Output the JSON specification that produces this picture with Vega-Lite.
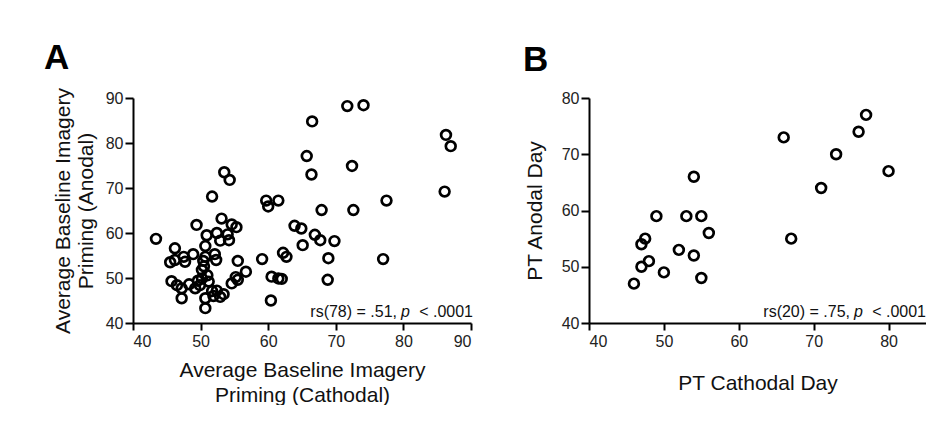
{
  "$schema": "https://vega.github.io/schema/vega-lite/v6.json",
  "background": "white",
  "padding": {"left": 44, "top": 40, "right": 0, "bottom": 0},
  "spacing": 50,
  "config": {
    "view": {"stroke": null},
    "font": "Liberation Sans",
    "axis": {
      "grid": false,
      "domainColor": "#000",
      "domainWidth": 2,
      "tickColor": "#000",
      "tickWidth": 2,
      "tickSize": 7,
      "labelFont": "Liberation Sans",
      "labelFontSize": 16,
      "labelColor": "#222",
      "titleFont": "Liberation Sans",
      "titleFontWeight": "normal",
      "titleFontSize": 21,
      "titleColor": "#111"
    },
    "title": {"font": "Liberation Sans", "fontSize": 35, "fontWeight": "bold", "anchor": "start", "frame": "group", "color": "#000"}
  },
  "datasets": {
    "a": [
      {"cathodal": 43.4, "anodal": 58.7}, {"cathodal": 49.4, "anodal": 61.8}, {"cathodal": 53.1, "anodal": 63.2},
      {"cathodal": 54.6, "anodal": 61.9}, {"cathodal": 55.3, "anodal": 61.3}, {"cathodal": 50.9, "anodal": 59.5},
      {"cathodal": 52.4, "anodal": 60.0}, {"cathodal": 54.0, "anodal": 59.7}, {"cathodal": 52.9, "anodal": 58.3},
      {"cathodal": 54.2, "anodal": 58.4}, {"cathodal": 50.7, "anodal": 57.1}, {"cathodal": 46.2, "anodal": 56.6},
      {"cathodal": 48.9, "anodal": 55.3}, {"cathodal": 52.1, "anodal": 55.3}, {"cathodal": 52.3, "anodal": 54.0},
      {"cathodal": 50.7, "anodal": 54.7}, {"cathodal": 50.4, "anodal": 53.8}, {"cathodal": 47.5, "anodal": 54.7},
      {"cathodal": 47.7, "anodal": 53.6}, {"cathodal": 45.5, "anodal": 53.5}, {"cathodal": 46.2, "anodal": 54.0},
      {"cathodal": 55.5, "anodal": 53.8}, {"cathodal": 59.1, "anodal": 54.2}, {"cathodal": 56.7, "anodal": 51.4},
      {"cathodal": 50.2, "anodal": 51.8}, {"cathodal": 50.2, "anodal": 49.9}, {"cathodal": 51.2, "anodal": 49.2},
      {"cathodal": 49.9, "anodal": 48.4}, {"cathodal": 45.7, "anodal": 49.3}, {"cathodal": 46.5, "anodal": 48.4},
      {"cathodal": 47.2, "anodal": 47.7}, {"cathodal": 48.3, "anodal": 48.6}, {"cathodal": 49.2, "anodal": 47.7},
      {"cathodal": 54.6, "anodal": 48.8}, {"cathodal": 55.5, "anodal": 49.6}, {"cathodal": 55.2, "anodal": 50.2},
      {"cathodal": 47.2, "anodal": 45.5}, {"cathodal": 50.7, "anodal": 45.5}, {"cathodal": 51.9, "anodal": 46.0},
      {"cathodal": 52.9, "anodal": 45.8}, {"cathodal": 51.7, "anodal": 47.1}, {"cathodal": 50.7, "anodal": 43.3},
      {"cathodal": 60.5, "anodal": 50.3}, {"cathodal": 61.5, "anodal": 49.9}, {"cathodal": 62.0, "anodal": 49.8},
      {"cathodal": 60.4, "anodal": 45.0}, {"cathodal": 68.8, "anodal": 49.6}, {"cathodal": 62.2, "anodal": 55.6},
      {"cathodal": 62.7, "anodal": 54.7}, {"cathodal": 68.9, "anodal": 54.4}, {"cathodal": 77.0, "anodal": 54.2},
      {"cathodal": 65.1, "anodal": 57.3}, {"cathodal": 66.9, "anodal": 59.6}, {"cathodal": 67.7, "anodal": 58.4},
      {"cathodal": 69.8, "anodal": 58.2}, {"cathodal": 63.9, "anodal": 61.6}, {"cathodal": 64.9, "anodal": 61.0},
      {"cathodal": 67.9, "anodal": 65.1}, {"cathodal": 72.6, "anodal": 65.1}, {"cathodal": 59.7, "anodal": 67.2},
      {"cathodal": 60.0, "anodal": 65.9}, {"cathodal": 61.5, "anodal": 67.2}, {"cathodal": 77.5, "anodal": 67.2},
      {"cathodal": 51.7, "anodal": 68.1}, {"cathodal": 53.5, "anodal": 73.5}, {"cathodal": 54.3, "anodal": 71.8},
      {"cathodal": 86.1, "anodal": 69.2}, {"cathodal": 66.4, "anodal": 73.0}, {"cathodal": 72.4, "anodal": 74.9},
      {"cathodal": 65.7, "anodal": 77.1}, {"cathodal": 87.0, "anodal": 79.3}, {"cathodal": 86.3, "anodal": 81.8},
      {"cathodal": 66.5, "anodal": 84.8}, {"cathodal": 71.7, "anodal": 88.2}, {"cathodal": 74.1, "anodal": 88.4},
      {"cathodal": 51.0, "anodal": 50.6}, {"cathodal": 49.6, "anodal": 49.4}, {"cathodal": 52.4, "anodal": 47.2},
      {"cathodal": 50.5, "anodal": 52.6}, {"cathodal": 53.4, "anodal": 46.4}
    ],
    "b": [
      {"cathodal": 46, "anodal": 47}, {"cathodal": 47, "anodal": 50}, {"cathodal": 48, "anodal": 51},
      {"cathodal": 47, "anodal": 54}, {"cathodal": 47.5, "anodal": 55}, {"cathodal": 49, "anodal": 59},
      {"cathodal": 50, "anodal": 49}, {"cathodal": 52, "anodal": 53}, {"cathodal": 53, "anodal": 59},
      {"cathodal": 54, "anodal": 66}, {"cathodal": 54, "anodal": 52}, {"cathodal": 55, "anodal": 59},
      {"cathodal": 55, "anodal": 48}, {"cathodal": 56, "anodal": 56}, {"cathodal": 66, "anodal": 73},
      {"cathodal": 67, "anodal": 55}, {"cathodal": 71, "anodal": 64}, {"cathodal": 73, "anodal": 70},
      {"cathodal": 76, "anodal": 74}, {"cathodal": 77, "anodal": 77}, {"cathodal": 80, "anodal": 67}
    ],
    "one": [{"note": 1}]
  },
  "hconcat": [
    {
      "width": 338,
      "height": 225,
      "title": {"text": "A", "dx": -89, "offset": 12},
      "layer": [
        {
          "data": {"name": "a"},
          "mark": {"type": "point", "shape": "circle", "filled": false, "stroke": "#000", "strokeWidth": 2.7, "size": 95, "opacity": 1},
          "encoding": {
            "x": {"field": "cathodal", "type": "quantitative",
              "scale": {"domain": [40, 90], "nice": false, "zero": false},
              "axis": {"values": [40, 50, 60, 70, 80, 90], "title": ["Average Baseline Imagery", "Priming (Cathodal)"], "titleLineHeight": 25, "titlePadding": 10, "labelPadding": 3}},
            "y": {"field": "anodal", "type": "quantitative",
              "scale": {"domain": [40, 90], "nice": false, "zero": false},
              "axis": {"values": [40, 50, 60, 70, 80, 90], "title": ["Average Baseline Imagery", "Priming (Anodal)"], "titleLineHeight": 23, "titlePadding": 9, "tickSize": 8, "labelPadding": 2}}
          }
        },
        {
          "data": {"name": "one"},
          "mark": {"type": "text", "text": "< .0001", "align": "right", "baseline": "alphabetic", "dx": 2, "dy": -6, "fontSize": 16, "font": "Liberation Sans", "color": "#111"},
          "encoding": {"x": {"datum": 90, "type": "quantitative"}, "y": {"datum": 40, "type": "quantitative"}}
        },
        {
          "data": {"name": "one"},
          "mark": {"type": "text", "text": "p", "align": "right", "baseline": "alphabetic", "dx": -61, "dy": -6, "fontSize": 16, "fontStyle": "italic", "font": "Liberation Sans", "color": "#111"},
          "encoding": {"x": {"datum": 90, "type": "quantitative"}, "y": {"datum": 40, "type": "quantitative"}}
        },
        {
          "data": {"name": "one"},
          "mark": {"type": "text", "text": "rs(78) = .51,", "align": "right", "baseline": "alphabetic", "dx": -74, "dy": -6, "fontSize": 16, "font": "Liberation Sans", "color": "#111"},
          "encoding": {"x": {"datum": 90, "type": "quantitative"}, "y": {"datum": 40, "type": "quantitative"}}
        }
      ]
    },
    {
      "width": 337,
      "height": 225,
      "title": {"text": "B", "dx": -66, "offset": 12},
      "layer": [
        {
          "data": {"name": "b"},
          "mark": {"type": "point", "shape": "circle", "filled": false, "stroke": "#000", "strokeWidth": 2.7, "size": 95, "opacity": 1},
          "encoding": {
            "x": {"field": "cathodal", "type": "quantitative",
              "scale": {"domain": [40, 85], "nice": false, "zero": false},
              "axis": {"values": [40, 50, 60, 70, 80], "title": "PT Cathodal Day", "titlePadding": 23, "labelPadding": 3}},
            "y": {"field": "anodal", "type": "quantitative",
              "scale": {"domain": [40, 80], "nice": false, "zero": false},
              "axis": {"values": [40, 50, 60, 70, 80], "title": "PT Anodal Day", "titlePadding": 16, "tickSize": 8, "labelPadding": 2}}
          }
        },
        {
          "data": {"name": "one"},
          "mark": {"type": "text", "text": "< .0001", "align": "right", "baseline": "alphabetic", "dx": 0, "dy": -6, "fontSize": 16, "font": "Liberation Sans", "color": "#111"},
          "encoding": {"x": {"datum": 85, "type": "quantitative"}, "y": {"datum": 40, "type": "quantitative"}}
        },
        {
          "data": {"name": "one"},
          "mark": {"type": "text", "text": "p", "align": "right", "baseline": "alphabetic", "dx": -63, "dy": -6, "fontSize": 16, "fontStyle": "italic", "font": "Liberation Sans", "color": "#111"},
          "encoding": {"x": {"datum": 85, "type": "quantitative"}, "y": {"datum": 40, "type": "quantitative"}}
        },
        {
          "data": {"name": "one"},
          "mark": {"type": "text", "text": "rs(20) = .75,", "align": "right", "baseline": "alphabetic", "dx": -76, "dy": -6, "fontSize": 16, "font": "Liberation Sans", "color": "#111"},
          "encoding": {"x": {"datum": 85, "type": "quantitative"}, "y": {"datum": 40, "type": "quantitative"}}
        }
      ]
    }
  ]
}
